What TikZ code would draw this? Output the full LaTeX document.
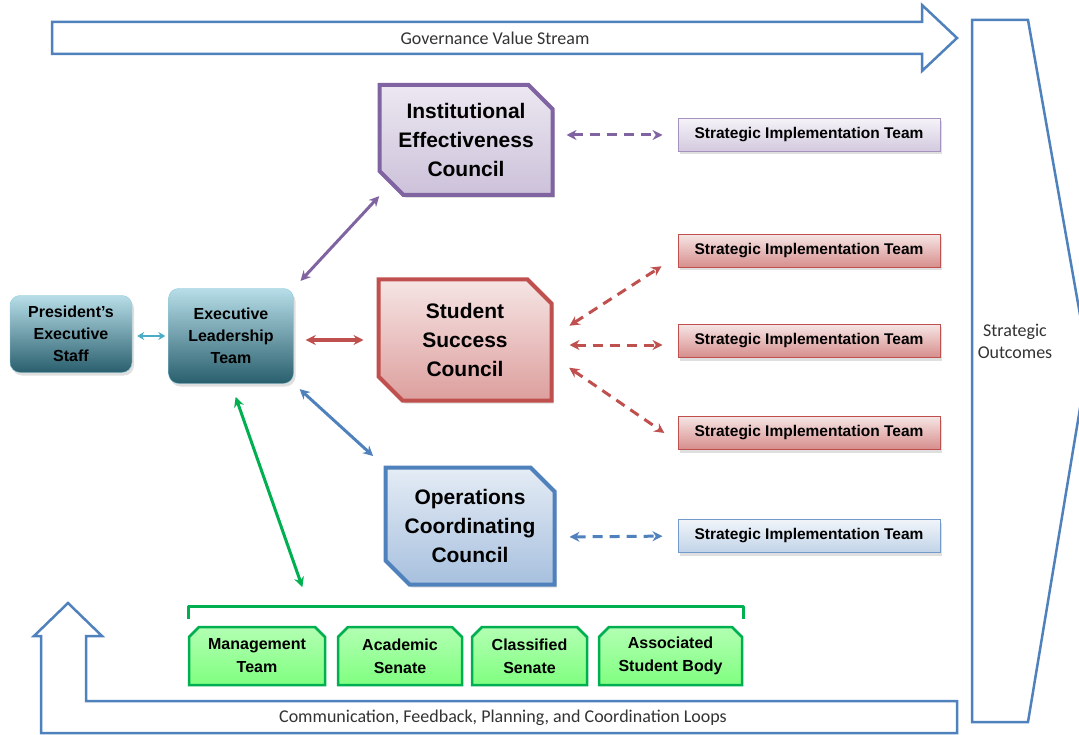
\documentclass[tikz,border=0pt]{standalone}
\usepackage{fontspec}
\setmainfont{Liberation Sans}
\newfontfamily\calibri{Carlito}
\usetikzlibrary{arrows.meta,shapes.misc,shadows}

\definecolor{ocblue}{HTML}{4F81BD}
\definecolor{ocred}{HTML}{C0504D}
\definecolor{ocpurple}{HTML}{8064A2}
\definecolor{ocgreen}{HTML}{00B050}
\definecolor{octeal}{HTML}{4BACC6}

\tikzset{
  softshadow/.style={drop shadow={opacity=0.25, shadow xshift=2pt, shadow yshift=-3pt}},
  bigarrow/.style={draw=ocblue, line width=2.5pt, line join=miter, fill=white},
  looplabel/.style={font=\calibri\fontsize{18}{22}\selectfont, text=black!80},
  leadbox/.style={draw=octeal!60, rounded corners=10pt, inner sep=0pt, align=center,
    top color=octeal!40, bottom color=octeal!55!black, softshadow,
    font=\bfseries\fontsize{16}{22}\selectfont},
  council/.style={chamfered rectangle, chamfered rectangle corners={north east,south west},
    chamfered rectangle xsep=12pt, chamfered rectangle ysep=12pt, line width=4pt,
    inner sep=0pt, align=center, softshadow, font=\bfseries\fontsize{21}{29}\selectfont},
  sitbox/.style={draw, line width=1pt, minimum width=262pt, minimum height=33pt,
    inner sep=0pt, softshadow, font=\bfseries\fontsize{15.5}{18}\selectfont},
  groupbox/.style={chamfered rectangle, chamfered rectangle corners={north west,north east},
    chamfered rectangle xsep=5pt, chamfered rectangle ysep=5pt, draw=ocgreen, line width=2.5pt,
    top color=green!30!white, bottom color=green!50!white, minimum height=58pt,
    inner sep=0pt, align=center, font=\bfseries\fontsize{16}{23}\selectfont},
  linkarrow/.style={line width=3pt, {Stealth[length=10pt,width=10pt]}-{Stealth[length=10pt,width=10pt]}},
  looseline/.style={dash pattern=on 10pt off 7pt}
}

\begin{document}
\begin{tikzpicture}[x=1pt, y=-1pt]
  \useasboundingbox (0,0) rectangle (1079,735);

  % Big value stream arrows
  \draw[bigarrow] (52,22) -- (922,22) -- (922,5) -- (957,38) -- (922,71) -- (922,54) -- (52,54) -- cycle;
  \node[looplabel] (gvs) at (495,38) {Governance Value Stream};

  \draw[bigarrow] (41,733) -- (957,733) -- (957,701) -- (86,701) -- (86,636) -- (102,636)
    -- (68,603) -- (34,636) -- (41,636) -- cycle;
  \node[looplabel] (cfp) at (503,718) {Communication, Feedback, Planning, and Coordination Loops};

  \draw[bigarrow] (972,20) -- (1028,20) -- (1088,360) -- (1028,722) -- (972,722) -- cycle;
  \node[looplabel, align=center] (so) at (1015,341) {Strategic\\Outcomes};

  % Leadership boxes
  \node[leadbox, minimum width=122pt, minimum height=77pt] (PES) at (71,334) {President's\\Executive\\Staff};
  \node[leadbox, minimum width=125pt, minimum height=95pt] (ELT) at (231,336) {Executive\\Leadership\\Team};

  % Councils
  \node[council, draw=ocpurple, top color=ocpurple!15, bottom color=ocpurple!40,
    minimum width=173pt, minimum height=110pt] (IEC) at (466,140) {Institutional\\Effectiveness\\Council};
  \node[council, draw=ocred, top color=ocred!15, bottom color=ocred!55,
    minimum width=173pt, minimum height=121pt] (SSC) at (465,340) {Student\\Success\\Council};
  \node[council, draw=ocblue, top color=ocblue!15, bottom color=ocblue!50,
    minimum width=169pt, minimum height=117pt] (OCC) at (470,526) {Operations\\Coordinating\\Council};

  % Strategic implementation teams
  \node[sitbox, draw=ocpurple!70, top color=ocpurple!8, bottom color=ocpurple!35] (SIT1) at (809,135) {Strategic Implementation Team};
  \node[sitbox, draw=ocred, top color=ocred!15, bottom color=ocred!65] (SIT2) at (809,251) {Strategic Implementation Team};
  \node[sitbox, draw=ocred, top color=ocred!15, bottom color=ocred!65] (SIT3) at (809,341) {Strategic Implementation Team};
  \node[sitbox, draw=ocred, top color=ocred!15, bottom color=ocred!65] (SIT4) at (809,433) {Strategic Implementation Team};
  \node[sitbox, draw=ocblue!80, top color=ocblue!8, bottom color=ocblue!35] (SIT5) at (809,536) {Strategic Implementation Team};

  % Constituent groups
  \node[groupbox, minimum width=136pt] (MT) at (257,656) {Management\\Team};
  \node[groupbox, minimum width=124pt] (AS) at (400,656) {Academic\\Senate};
  \node[groupbox, minimum width=115pt] (CS) at (529.5,656) {Classified\\Senate};
  \node[groupbox, minimum width=143pt] (ASB) at (670.5,656) {Associated\\Student Body};

  % Bracket over the groups
  \coordinate (brL) at (188,619);
  \coordinate (brR) at (743,619);
  \coordinate (brk) at (309,606);
  \draw[ocgreen, line width=3pt, line join=round] (brL) -- (188,606) -- (743,606) -- (brR);

  % Solid links
  \draw[linkarrow, octeal, {Stealth[length=7pt,width=8pt]}-{Stealth[length=7pt,width=8pt]}, line width=2.5pt,
    shorten <=5pt, shorten >=3pt] (PES.east |- ELT.west) -- (ELT.west);
  \draw[linkarrow, ocpurple, shorten <=10pt, shorten >=16pt] (ELT.north east) -- (IEC.south west);
  \draw[linkarrow, ocred, shorten <=12pt, shorten >=13pt] (ELT.east |- SSC.west) -- (SSC.west);
  \draw[linkarrow, ocblue, shorten <=8pt, shorten >=14pt] (ELT.south east) -- (OCC.north west);
  \draw[linkarrow, ocgreen, shorten <=14pt, shorten >=20pt] (ELT.south) -- (brk);

  % Dashed links to the teams
  \draw[linkarrow, looseline, ocpurple, shorten <=12pt, shorten >=15pt] ([yshift=5pt]IEC.east) -- (SIT1.west);
  \draw[linkarrow, looseline, ocred, shorten <=19pt, shorten >=19pt] ([yshift=4pt]SSC.east) -- ([yshift=-5pt]SIT2.west);
  \draw[linkarrow, looseline, ocred, shorten <=16pt, shorten >=15pt] ([yshift=-5pt]SSC.east) -- ([yshift=-4pt]SIT3.west);
  \draw[linkarrow, looseline, ocred, shorten <=19pt, shorten >=16pt] ([yshift=-17pt]SSC.east) -- ([yshift=-9pt]SIT4.west);
  \draw[linkarrow, looseline, ocblue, shorten <=13pt, shorten >=15pt] ([yshift=-11pt]OCC.east) -- (SIT5.west);
\end{tikzpicture}
\end{document}
